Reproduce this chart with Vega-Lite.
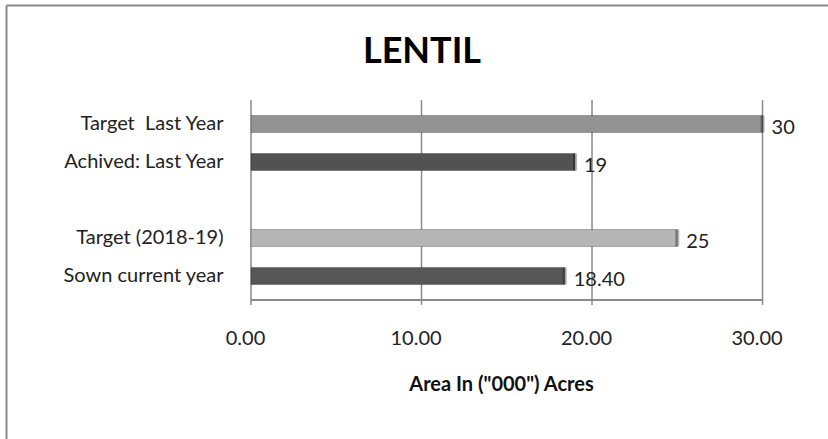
{
  "$schema": "https://vega.github.io/schema/vega-lite/v6.json",
  "autosize": "none",
  "width": 822,
  "height": 434,
  "padding": {"left": 6, "top": 5, "right": 0, "bottom": 0},
  "background": "white",
  "config": {
    "font": "Lato",
    "view": {"stroke": null},
    "text": {"font": "Lato"},
    "axisX": {
      "orient": "top",
      "format": ".2f",
      "grid": false,
      "ticks": false,
      "domain": true,
      "domainColor": "#898989",
      "domainWidth": 2,
      "labelPadding": -333,
      "labelBaseline": "middle",
      "labelOffset": -6,
      "labelFont": "Lato",
      "labelFontSize": 20,
      "labelColor": "#222222",
      "labelFlush": false,
      "labelOverlap": false,
      "titleFont": "Lato",
      "titleFontSize": 20,
      "titleFontWeight": "bold",
      "titleColor": "#111111",
      "titleX": 495,
      "titleY": 379,
      "titleBaseline": "middle",
      "titleAlign": "center"
    },
    "axisY": {
      "orient": "left",
      "ticks": false,
      "grid": false,
      "domain": true,
      "domainColor": "#898989",
      "domainWidth": 2,
      "labelPadding": -217,
      "labelAlign": "right",
      "labelBaseline": "middle",
      "labelDy": 4,
      "labelFont": "Lato",
      "labelFontSize": 20,
      "labelColor": "#222222",
      "labelLimit": 0
    }
  },
  "title": {
    "text": "LENTIL",
    "font": "Lato",
    "fontSize": 36,
    "fontWeight": "bold",
    "color": "#000000",
    "anchor": "middle",
    "offset": -66,
    "dx": 5
  },
  "datasets": {
    "crops": [
      {"category": "Target\u00a0 Last Year", "value": 30, "label": "30"},
      {"category": "Achived: Last Year", "value": 19, "label": "19"},
      {"category": "Target (2018-19)", "value": 25, "label": "25"},
      {"category": "Sown current year", "value": 18.4, "label": "18.40"}
    ],
    "gridTicks": [{"tick": 0}, {"tick": 10}, {"tick": 20}, {"tick": 30}]
  },
  "data": {"name": "crops"},
  "layer": [
    {
      "data": {"name": "gridTicks"},
      "mark": {"type": "rule", "color": "#8a8a8a", "strokeWidth": 1.5},
      "encoding": {
        "x": {"field": "tick", "type": "quantitative", "title": "Area In (\"000\") Acres",
              "axis": {"values": [0, 10, 20, 30]},
              "scale": {"domain": [-14.37, 33.84], "nice": false, "zero": false}},
        "y": {"datum": "Target\u00a0 Last Year", "type": "nominal", "bandPosition": -0.91, "title": null,
              "scale": {"domain": [" ", "  ", "Target\u00a0 Last Year", "Achived: Last Year", "   ", "Target (2018-19)", "Sown current year", "    ", "     ", "      "],
                        "paddingInner": 0.553, "paddingOuter": 0.987, "align": 0.46}},
        "y2": {"datum": "Sown current year", "bandPosition": 2.2}
      }
    },
    {
      "mark": {"type": "rule", "color": "#8a8a8a", "strokeWidth": 1.5},
      "encoding": {
        "x": {"datum": 0, "type": "quantitative", "title": "Area In (\"000\") Acres",
              "axis": {"values": [0, 10, 20, 30]},
              "scale": {"domain": [-14.37, 33.84], "nice": false, "zero": false}},
        "x2": {"datum": 30},
        "y": {"datum": "Sown current year", "type": "nominal", "bandPosition": 1.91, "title": null,
              "scale": {"domain": [" ", "  ", "Target\u00a0 Last Year", "Achived: Last Year", "   ", "Target (2018-19)", "Sown current year", "    ", "     ", "      "],
                        "paddingInner": 0.553, "paddingOuter": 0.987, "align": 0.46}}
      }
    },
    {
      "mark": {"type": "bar", "stroke": "#000000", "strokeOpacity": 0.25, "strokeWidth": 1},
      "encoding": {
        "x": {"field": "value", "type": "quantitative", "title": "Area In (\"000\") Acres",
              "axis": {"values": [0, 10, 20, 30]},
              "scale": {"domain": [-14.37, 33.84], "nice": false, "zero": false}},
        "y": {"field": "category", "type": "nominal", "sort": null, "title": null,
              "scale": {"domain": [" ", "  ", "Target\u00a0 Last Year", "Achived: Last Year", "   ", "Target (2018-19)", "Sown current year", "    ", "     ", "      "],
                        "paddingInner": 0.553, "paddingOuter": 0.987, "align": 0.46}},
        "color": {"field": "category", "type": "nominal", "legend": null,
                  "scale": {"domain": ["Target\u00a0 Last Year", "Achived: Last Year", "Target (2018-19)", "Sown current year"],
                            "range": ["#939393", "#525252", "#b5b5b5", "#575757"]}}
      }
    },
    {
      "mark": {"type": "tick", "color": "#000000", "opacity": 0.3, "thickness": 4, "size": 17},
      "encoding": {
        "x": {"field": "value", "type": "quantitative", "title": "Area In (\"000\") Acres",
              "axis": {"values": [0, 10, 20, 30]},
              "scale": {"domain": [-14.37, 33.84], "nice": false, "zero": false}},
        "y": {"field": "category", "type": "nominal", "sort": null, "title": null,
              "scale": {"domain": [" ", "  ", "Target\u00a0 Last Year", "Achived: Last Year", "   ", "Target (2018-19)", "Sown current year", "    ", "     ", "      "],
                        "paddingInner": 0.553, "paddingOuter": 0.987, "align": 0.46}}
      }
    },
    {
      "mark": {"type": "text", "align": "left", "baseline": "middle", "dx": 9, "dy": 4, "fontSize": 20, "font": "Lato", "color": "#222222"},
      "encoding": {
        "x": {"field": "value", "type": "quantitative", "title": "Area In (\"000\") Acres",
              "axis": {"values": [0, 10, 20, 30]},
              "scale": {"domain": [-14.37, 33.84], "nice": false, "zero": false}},
        "y": {"field": "category", "type": "nominal", "sort": null, "title": null,
              "scale": {"domain": [" ", "  ", "Target\u00a0 Last Year", "Achived: Last Year", "   ", "Target (2018-19)", "Sown current year", "    ", "     ", "      "],
                        "paddingInner": 0.553, "paddingOuter": 0.987, "align": 0.46}},
        "text": {"field": "label", "type": "nominal"}
      }
    }
  ]
}
